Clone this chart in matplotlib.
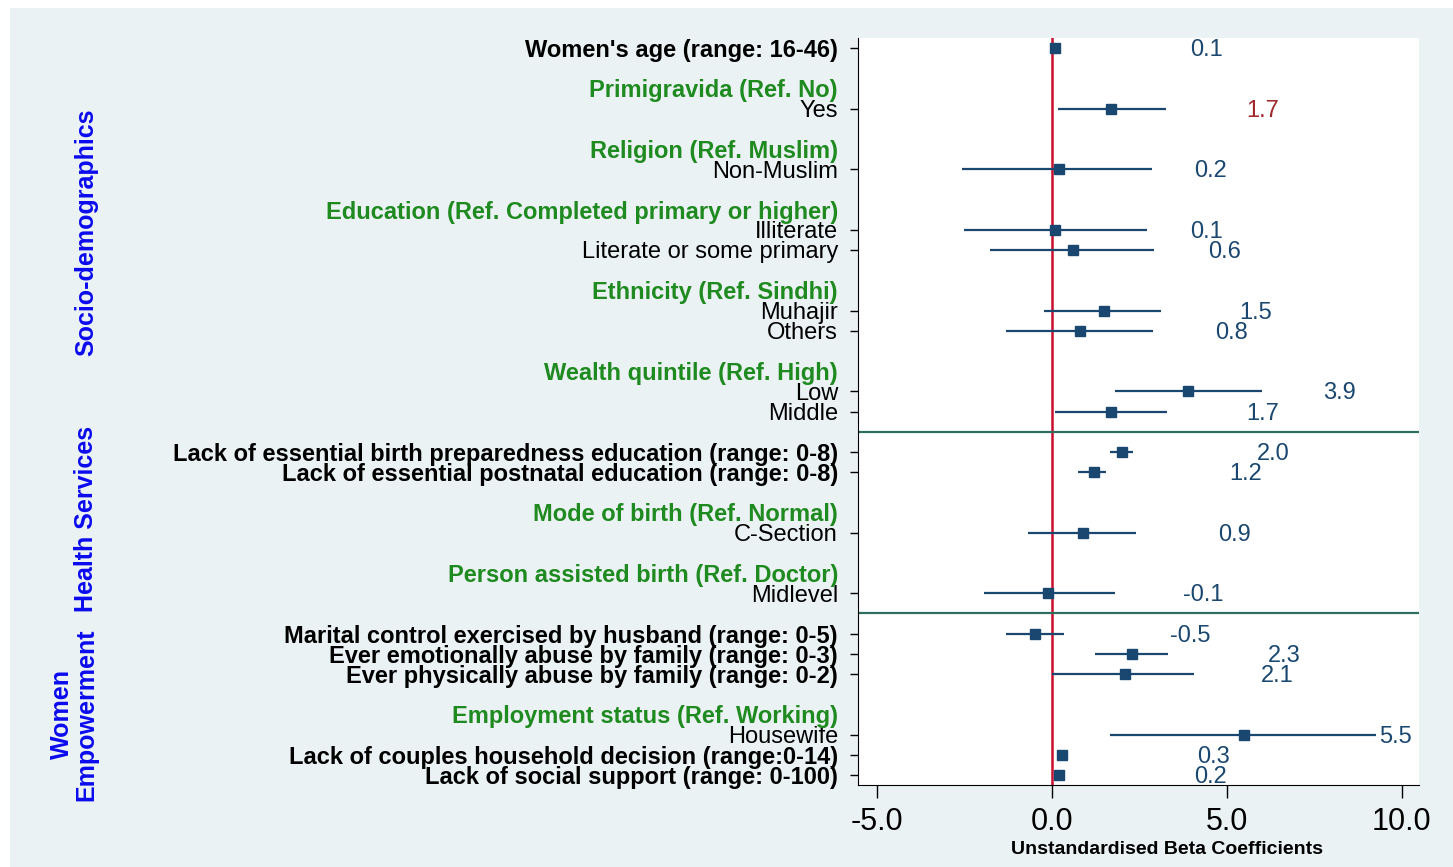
import matplotlib
matplotlib.use("Agg")
import matplotlib.pyplot as plt
from matplotlib.patches import Rectangle
from matplotlib.transforms import blended_transform_factory

plt.rcParams['font.family'] = ['Liberation Sans', 'DejaVu Sans']
plt.rcParams['axes.unicode_minus'] = False

# rows of the model (top to bottom)
labels = ["Women's age (range: 16-46)", "Yes", "Non-Muslim", "Illiterate",
          "Literate or some primary", "Muhajir", "Others", "Low", "Middle",
          "Lack of essential birth preparedness education (range: 0-8)",
          "Lack of essential postnatal education (range: 0-8)", "C-Section", "Midlevel",
          "Marital control exercised by husband (range: 0-5)",
          "Ever emotionally abuse by family (range: 0-3)",
          "Ever physically abuse by family (range: 0-2)", "Housewife",
          "Lack of couples household decision (range:0-14)",
          "Lack of social support (range: 0-100)"]
rows = [0, 3, 6, 9, 10, 13, 14, 17, 18, 20, 21, 24, 27, 29, 30, 31, 34, 35, 36]
is_bold = [True, False, False, False, False, False, False, False, False, True, True,
           False, False, True, True, True, False, True, True]
beta = [0.1, 1.7, 0.2, 0.1, 0.6, 1.5, 0.8, 3.9, 1.7, 2.0, 1.2, 0.9, -0.1, -0.5, 2.3, 2.1, 5.5, 0.3, 0.2]
ci_lo = [0.04, 0.18, -2.58, -2.52, -1.77, -0.23, -1.33, 1.81, 0.10, 1.65, 0.75, -0.69, -1.94,
         -1.32, 1.23, 0.01, 1.66, 0.15, 0.14]
ci_hi = [0.14, 3.26, 2.87, 2.73, 2.92, 3.12, 2.90, 6.01, 3.29, 2.33, 1.54, 2.40, 1.81,
         0.34, 3.33, 4.05, 9.26, 0.45, 0.26]

# reference-category headers
headers = ["Primigravida (Ref. No)", "Religion (Ref. Muslim)",
           "Education (Ref. Completed primary or higher)", "Ethnicity (Ref. Sindhi)",
           "Wealth quintile (Ref. High)", "Mode of birth (Ref. Normal)",
           "Person assisted birth (Ref. Doctor)", "Employment status (Ref. Working)"]
header_rows = [2, 5, 8, 12, 16, 23, 26, 33]

sections = ["Socio-demographics", "Health Services", "Women\nEmpowerment"]
section_mid = [9.1, 23.3, 33.0]
section_x = [86, 86, 74]
section_breaks = [19, 28]

navy = '#1a476f'
green = '#1f8a1f'
bg = '#eaf2f3'

fig = plt.figure(figsize=(14.53, 8.67), dpi=100)
fig.patch.set_facecolor('white')
fig.patches.append(Rectangle((10 / 1453, 0), 1, 1 - 8 / 867, transform=fig.transFigure,
                             facecolor=bg, edgecolor='none', zorder=-10))

ax = fig.add_axes([858 / 1453, 1 - 785 / 867, (1419 - 858) / 1453, (785 - 38) / 867])
ax.set_facecolor('white')

ax.hlines(rows, ci_lo, ci_hi, color=navy, lw=1.6, zorder=3)
ax.plot(beta, rows, 's', color=navy, ms=6.5, zorder=4)
ax.axvline(0, color='#c8102e', lw=1.8, zorder=2)
for yb in section_breaks:
    ax.axhline(yb, color='#2e6e5e', lw=1.6, zorder=2)

for b, r in zip(beta, rows):
    col = '#a0282a' if r == 3 else navy
    ax.annotate('%.1f' % b, (b, r), xytext=(135, -2), textcoords='offset pixels',
                ha='left', va='center', fontsize=17, color=col, zorder=5)

ax.set_xlim(-5.55, 10.5)
ax.set_ylim(36.5, -0.5)
ax.set_xticks([-5, 0, 5, 10])
ax.set_xticklabels(['%.1f' % v for v in [-5, 0, 5, 10]], fontsize=22)
ax.set_xlabel('Unstandardised Beta Coefficients', fontsize=14, fontweight='bold', labelpad=5)
ax.xaxis.set_label_coords(0.551, -0.075)

ax.set_yticks(rows)
ax.set_yticklabels(labels, fontsize=17)
for t, bld in zip(ax.get_yticklabels(), is_bold):
    t.set_fontweight('bold' if bld else 'normal')
ax.set_yticks(header_rows, minor=True)
ax.set_yticklabels(headers, minor=True, fontsize=17, fontweight='bold', color=green)

ax.tick_params(axis='y', which='major', length=6, width=1, pad=8.4)
ax.tick_params(axis='y', which='minor', length=0, pad=14.4)
ax.tick_params(axis='x', length=9.5, width=1, pad=6)
for s in ['top', 'right']:
    ax.spines[s].set_visible(False)

tr = blended_transform_factory(fig.transFigure, ax.transData)
for name, ym, xp in zip(sections, section_mid, section_x):
    fig.text(xp / 1453, ym, name, transform=tr, rotation=90, ha='center', va='center',
             multialignment='center', fontsize=18, fontweight='bold', color='#0a0aee',
             linespacing=1.0)

fig.savefig('out.png', dpi=100, facecolor=fig.get_facecolor())
